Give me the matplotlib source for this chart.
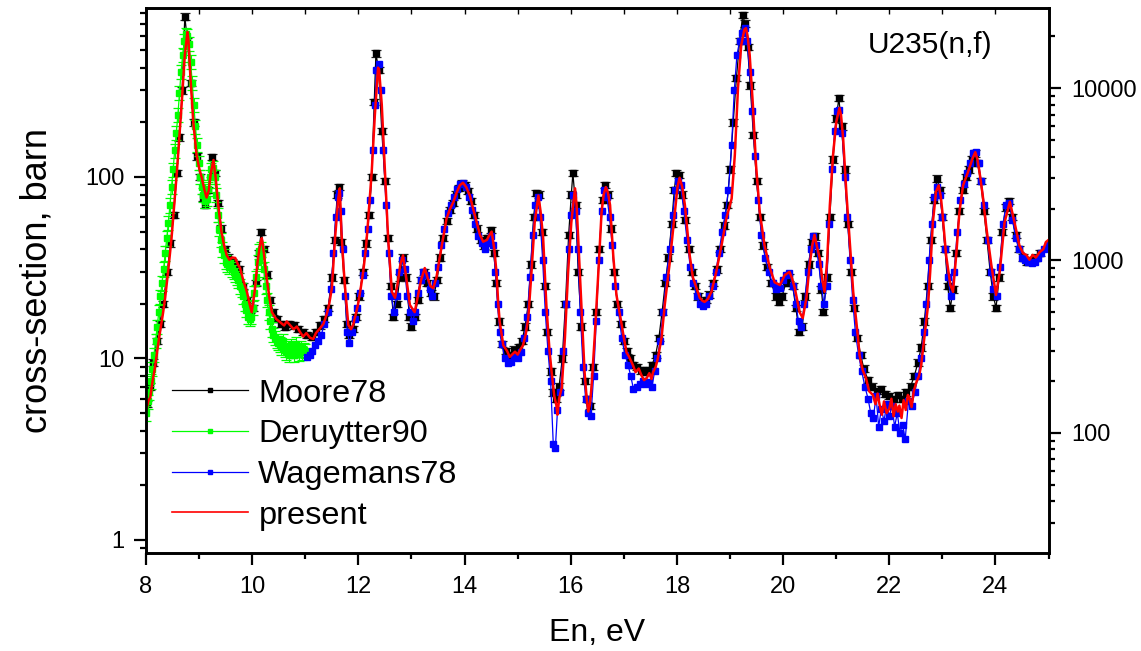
import numpy as np
import matplotlib
matplotlib.use("Agg")
import matplotlib.pyplot as plt
from matplotlib import ticker
from matplotlib.lines import Line2D

plt.rcParams['font.family'] = ['Liberation Sans', 'DejaVu Sans']

# ---- data (En in eV, cross-section in barn) ----
present_E = [8.00, 8.05, 8.08, 8.12, 8.17, 8.22, 8.26, 8.32, 8.36, 8.42, 8.48, 8.53, 8.58, 8.63, 8.67, 8.73,
             8.78, 8.80, 8.83, 8.89, 8.95, 9.00, 9.05, 9.10, 9.14, 9.18, 9.22, 9.27, 9.31, 9.36, 9.42, 9.47,
             9.52, 9.57, 9.62, 9.68, 9.73, 9.77, 9.83, 9.90, 9.95, 9.99, 10.05, 10.10, 10.15, 10.18, 10.22,
             10.27, 10.32, 10.37, 10.45, 10.52, 10.60, 10.65, 10.71, 10.78, 10.84, 10.90, 10.96, 11.02, 11.09,
             11.15, 11.20, 11.28, 11.34, 11.40, 11.45, 11.50, 11.56, 11.62, 11.65, 11.68, 11.72, 11.75, 11.81,
             11.86, 11.90, 11.95, 11.99, 12.04, 12.09, 12.14, 12.18, 12.25, 12.31, 12.37, 12.39, 12.44, 12.50,
             12.56, 12.63, 12.69, 12.74, 12.79, 12.84, 12.90, 12.97, 13.06, 13.12, 13.18, 13.25, 13.30, 13.36,
             13.41, 13.47, 13.53, 13.60, 13.66, 13.72, 13.79, 13.85, 13.91, 13.97, 14.03, 14.10, 14.16, 14.23,
             14.29, 14.35, 14.42, 14.47, 14.51, 14.56, 14.60, 14.63, 14.66, 14.73, 14.80, 14.85, 14.88, 14.95,
             15.00, 15.05, 15.10, 15.15, 15.20, 15.26, 15.32, 15.39, 15.43, 15.48, 15.54, 15.60, 15.64, 15.69,
             15.73, 15.75, 15.78, 15.83, 15.89, 15.95, 16.01, 16.08, 16.11, 16.14, 16.20, 16.26, 16.30, 16.33,
             16.36, 16.39, 16.45, 16.52, 16.58, 16.62, 16.66, 16.70, 16.74, 16.80, 16.86, 16.95, 17.00, 17.05,
             17.10, 17.17, 17.22, 17.28, 17.33, 17.38, 17.43, 17.48, 17.52, 17.55, 17.60, 17.64, 17.71, 17.77,
             17.86, 17.96, 18.01, 18.05, 18.10, 18.15, 18.24, 18.30, 18.37, 18.43, 18.48, 18.52, 18.58, 18.65,
             18.74, 18.84, 18.93, 19.03, 19.09, 19.15, 19.21, 19.27, 19.30, 19.33, 19.37, 19.43, 19.49, 19.56,
             19.65, 19.75, 19.84, 19.94, 20.03, 20.12, 20.17, 20.22, 20.31, 20.37, 20.44, 20.50, 20.55, 20.59,
             20.64, 20.69, 20.74, 20.78, 20.83, 20.88, 20.94, 21.00, 21.06, 21.09, 21.13, 21.19, 21.25, 21.32,
             21.41, 21.44, 21.50, 21.56, 21.62, 21.69, 21.74, 21.78, 21.82, 21.86, 21.90, 21.95, 22.00, 22.04,
             22.08, 22.12, 22.16, 22.19, 22.23, 22.27, 22.31, 22.35, 22.38, 22.42, 22.46, 22.51, 22.56, 22.60,
             22.66, 22.73, 22.77, 22.82, 22.88, 22.93, 22.97, 23.00, 23.07, 23.15, 23.20, 23.26, 23.32, 23.39,
             23.48, 23.57, 23.62, 23.66, 23.70, 23.76, 23.83, 23.92, 24.01, 24.08, 24.17, 24.27, 24.36, 24.45,
             24.52, 24.58, 24.64, 24.70, 24.76, 24.83, 24.90, 24.95, 25.00]
present_sig = [5.2, 5.9, 6.1, 7.4, 9.0, 11.5, 13.8, 17.8, 21.6, 31, 46, 70, 106, 170, 250, 470,
               630, 560, 380, 200, 133, 112, 99, 85, 77, 84, 105, 124, 100, 70, 50, 42,
               37, 35, 36, 35.8, 33, 31.5, 27, 23.3, 20, 18, 24, 34, 43, 46, 38,
               28, 22, 18, 16.5, 15.9, 15.2, 16, 15.3, 14.5, 15, 14, 13.2, 13.8, 13,
               12.8, 13.8, 14.7, 15.5, 17.4, 20, 24.4, 46, 76, 86.6, 50, 32, 24.4, 15.3,
               14.5, 15.3, 17.5, 19.7, 24, 30, 40, 56, 106, 220, 400, 390, 250, 106,
               46, 23.3, 21.6, 26, 33, 37, 28, 19.7, 18, 22, 27, 31.5, 28, 25,
               24.4, 28, 35.8, 47, 59, 66, 73, 82, 90, 93, 88, 79, 67, 56,
               48, 44, 45, 48, 50, 40, 30, 21, 16, 11.8, 11, 10.2, 10.4, 10.9,
               10.5, 11.2, 11.8, 13.5, 16.7, 30, 56, 79, 65, 46, 19.7, 11, 8.4, 6.2,
               5.5, 4.9, 6.0, 6.9, 13, 30, 56, 86.6, 70, 46, 19.7, 8.4, 6.0, 5.1,
               5.6, 6.9, 13, 30, 64, 80, 88, 82, 70, 37, 22.4, 15.9, 13, 10.8,
               10.2, 9.2, 8.4, 8.8, 8.1, 7.6, 7.8, 8.3, 7.7, 8.4, 9.0, 10, 13, 19.7,
               33, 64, 88, 99, 88, 70, 37, 28, 24.4, 21.6, 20.8, 20.5, 21.2, 23.3,
               30, 42, 59, 76, 132, 310, 530, 650, 660, 600, 470, 250, 116, 64,
               42, 31.5, 26.3, 25.4, 28.8, 30, 27.5, 24.4, 18, 16.7, 21.6, 33, 42, 48,
               41, 35.8, 27, 23.3, 35, 70, 132, 200, 240, 220, 164, 83, 46, 23.3,
               13, 10.4, 8.6, 7.8, 6.6, 6.3, 5.6, 6.4, 5.5, 4.9, 5.8, 5.0, 5.3, 6.0,
               4.8, 5.6, 5.1, 5.5, 4.7, 5.9, 5.2, 6.3, 6.05, 5.4, 6.6, 7.4, 8.0, 9.2,
               13, 19.7, 30, 56, 83, 90, 78, 64, 37, 25.4, 23.3, 37, 64, 90,
               106, 127, 137, 125, 106, 79, 52, 33, 22.4, 30, 56, 73, 56, 42,
               38, 37.2, 35, 37.2, 36, 38.5, 40, 43.8, 45]

moore_E = [8.02, 8.08, 8.14, 8.20, 8.26, 8.32, 8.40, 8.46, 8.52, 8.58, 8.63, 8.68, 8.73, 8.78, 8.84, 8.90,
           8.96, 9.02, 9.07, 9.11, 9.17, 9.24, 9.30, 9.36, 9.42, 9.48, 9.55, 9.62, 9.70, 9.76, 9.83, 9.90,
           9.96, 10.02, 10.07, 10.12, 10.17, 10.22, 10.27, 10.33, 10.40, 10.47, 10.55, 10.62, 10.70, 10.78,
           10.86, 10.95, 11.03, 11.12, 11.20, 11.28, 11.36, 11.43, 11.50, 11.55, 11.60, 11.63, 11.68, 11.73,
           11.78, 11.83, 11.90, 11.96, 12.02, 12.08, 12.14, 12.20, 12.25, 12.30, 12.33, 12.38, 12.44, 12.50,
           12.56, 12.61, 12.66, 12.72, 12.78, 12.84, 12.90, 12.96, 13.00, 13.06, 13.12, 13.18, 13.24, 13.30,
           13.36, 13.42, 13.48, 13.54, 13.60, 13.66, 13.72, 13.78, 13.84, 13.90, 13.95, 14.00, 14.06, 14.12,
           14.18, 14.24, 14.30, 14.36, 14.43, 14.50, 14.55, 14.60, 14.65, 14.71, 14.78, 14.86, 14.94, 15.02,
           15.08, 15.14, 15.20, 15.25, 15.30, 15.35, 15.40, 15.45, 15.51, 15.56, 15.62, 15.67, 15.72, 15.78,
           15.84, 15.90, 15.96, 16.01, 16.04, 16.09, 16.14, 16.20, 16.26, 16.31, 16.36, 16.42, 16.48, 16.54,
           16.60, 16.65, 16.70, 16.76, 16.82, 16.88, 16.94, 17.00, 17.06, 17.12, 17.18, 17.25, 17.32, 17.39,
           17.46, 17.53, 17.60, 17.66, 17.72, 17.78, 17.84, 17.90, 17.95, 17.99, 18.04, 18.10, 18.16, 18.22,
           18.28, 18.34, 18.40, 18.47, 18.54, 18.61, 18.68, 18.75, 18.82, 18.88, 18.94, 19.00, 19.06, 19.12,
           19.18, 19.24, 19.28, 19.33, 19.38, 19.44, 19.50, 19.56, 19.62, 19.70, 19.78, 19.86, 19.92, 19.98,
           20.05, 20.12, 20.18, 20.24, 20.30, 20.36, 20.42, 20.48, 20.54, 20.60, 20.66, 20.72, 20.76, 20.82,
           20.88, 20.94, 21.00, 21.05, 21.10, 21.16, 21.22, 21.28, 21.34, 21.40, 21.46, 21.52, 21.60, 21.68,
           21.76, 21.84, 21.92, 22.00, 22.08, 22.16, 22.24, 22.32, 22.40, 22.47, 22.54, 22.60, 22.66, 22.72,
           22.78, 22.84, 22.90, 22.95, 23.00, 23.05, 23.10, 23.15, 23.20, 23.26, 23.32, 23.38, 23.44, 23.50,
           23.56, 23.61, 23.66, 23.72, 23.78, 23.84, 23.90, 23.96, 24.01, 24.07, 24.13, 24.19, 24.25, 24.31,
           24.38, 24.45, 24.52, 24.60, 24.68, 24.76, 24.84]
moore_sig = [5.6, 7.0, 9.5, 12.5, 15.5, 20, 30, 43, 62, 105, 165, 300, 765, 560, 330, 200,
             130, 100, 77, 70, 85, 129, 105, 72, 52, 40, 36, 34, 33, 31, 25, 21,
             18.5, 19, 26, 38, 50, 40, 29, 21, 18, 16.5, 15.5, 15.0, 15.5, 15.2,
             14.5, 14.0, 13.5, 13.2, 14.0, 15.2, 16.5, 19, 28, 45, 80, 88, 44, 27,
             15.5, 13.5, 14.5, 17, 22, 30, 43, 62, 100, 260, 480, 390, 180, 95,
             46, 25, 17, 20, 28, 36, 28, 17, 15, 17, 21, 27, 30, 26,
             23, 22, 27, 36, 46, 57, 66, 72, 80, 87, 92, 90, 84, 74,
             62, 52, 45, 42, 46, 51, 38, 26, 16, 12, 11, 10.5, 11.2, 11.5,
             12.5, 15, 20, 33, 60, 82, 80, 50, 25, 14, 8.5, 6.5, 6.0, 7.0,
             10, 20, 48, 80, 105, 70, 30, 15, 7.5, 6.0, 5.5, 9, 18, 40,
             75, 90, 80, 52, 30, 20, 15.5, 12.5, 11, 10, 9.2, 9.0, 8.6, 8.4,
             8.6, 9.2, 10.5, 13, 18, 26, 36, 55, 85, 105, 103, 80, 58, 40,
             30, 25, 22, 20.5, 21, 22.5, 26, 31, 40, 54, 70, 110, 200, 350,
             560, 780, 700, 520, 320, 170, 95, 60, 42, 32, 26, 22, 20.5, 22,
             26, 28, 25, 19, 14, 15, 22, 33, 44, 47, 38, 24, 18, 28,
             60, 125, 210, 272, 190, 110, 55, 30, 19, 13, 10.5, 8.8, 7.6, 7.0,
             6.6, 6.8, 6.4, 6.2, 6.0, 6.3, 6.0, 6.5, 7.0, 8.0, 9.5, 11.5, 16, 25,
             45, 75, 98, 85, 60, 40, 25, 19, 24, 38, 65, 85, 100, 110,
             125, 135, 120, 95, 65, 45, 30, 22, 19, 28, 50, 68, 74, 60,
             48, 40, 36, 34, 35, 36, 38]

deruytter_E = [8.00, 8.03, 8.06, 8.09, 8.12, 8.15, 8.18, 8.21, 8.24, 8.27, 8.30, 8.33, 8.36, 8.39, 8.42,
               8.45, 8.48, 8.51, 8.54, 8.57, 8.60, 8.63, 8.66, 8.69, 8.72, 8.75, 8.78, 8.81, 8.84, 8.87,
               8.90, 8.93, 8.96, 8.99, 9.02, 9.05, 9.08, 9.11, 9.14, 9.17, 9.20, 9.23, 9.26, 9.29, 9.32,
               9.35, 9.38, 9.41, 9.44, 9.47, 9.50, 9.53, 9.56, 9.59, 9.62, 9.65, 9.68, 9.71, 9.74, 9.77,
               9.80, 9.83, 9.86, 9.89, 9.92, 9.95, 9.98, 10.01, 10.04, 10.07, 10.10, 10.13, 10.16, 10.19,
               10.22, 10.25, 10.28, 10.31, 10.34, 10.37, 10.40, 10.43, 10.46, 10.49, 10.52, 10.55, 10.58,
               10.61, 10.64, 10.67, 10.70, 10.73, 10.76, 10.79, 10.82, 10.85, 10.88, 10.91, 10.94, 10.97, 11.00]
deruytter_sig = [5.0, 5.8, 6.5, 7.5, 8.8, 10.5, 12.5, 15, 18, 22, 26, 31, 38, 46, 56,
                 70, 88, 110, 140, 175, 220, 290, 380, 470, 560, 610, 600, 540, 430, 330,
                 250, 190, 150, 120, 100, 88, 80, 74, 76, 86, 100, 110, 112, 100, 80,
                 62, 52, 45, 40, 37, 34, 33, 32, 33, 31, 30, 29, 28, 27, 25,
                 24, 22, 20, 18.5, 17, 16.5, 17, 19, 23, 28, 34, 39, 40, 37,
                 31, 25, 21, 18, 16, 14.5, 13.5, 13, 12.5, 12.2, 12, 11.5, 12.5,
                 11.2, 10.8, 11.5, 10.5, 11.8, 11, 10.5, 12, 11.2, 10.6, 11.5, 10.8, 11.2, 11.0]

wagemans_E = [11.03, 11.08, 11.13, 11.18, 11.24, 11.30, 11.36, 11.42, 11.48, 11.53, 11.57, 11.61, 11.64,
              11.67, 11.71, 11.75, 11.79, 11.83, 11.88, 11.93, 11.98, 12.03, 12.08, 12.13, 12.18, 12.22,
              12.27, 12.31, 12.34, 12.38, 12.42, 12.47, 12.52, 12.57, 12.62, 12.67, 12.72, 12.77, 12.82,
              12.87, 12.92, 12.97, 13.02, 13.07, 13.12, 13.17, 13.22, 13.28, 13.34, 13.39, 13.45, 13.50,
              13.56, 13.62, 13.68, 13.74, 13.80, 13.86, 13.92, 13.97, 14.02, 14.08, 14.14, 14.20, 14.26,
              14.32, 14.38, 14.44, 14.49, 14.54, 14.58, 14.62, 14.66, 14.70, 14.76, 14.82, 14.88, 14.94,
              15.00, 15.06, 15.12, 15.18, 15.23, 15.28, 15.33, 15.38, 15.42, 15.47, 15.52, 15.57, 15.62,
              15.67, 15.71, 15.75, 15.80, 15.86, 15.91, 15.96, 16.01, 16.05, 16.09, 16.13, 16.18, 16.23,
              16.28, 16.33, 16.38, 16.43, 16.48, 16.53, 16.58, 16.63, 16.68, 16.73, 16.78, 16.84, 16.90,
              16.96, 17.02, 17.08, 17.13, 17.18, 17.24, 17.30, 17.36, 17.42, 17.48, 17.53, 17.58, 17.63,
              17.68, 17.74, 17.80, 17.86, 17.92, 17.97, 18.02, 18.07, 18.13, 18.19, 18.25, 18.31, 18.37,
              18.43, 18.49, 18.55, 18.61, 18.67, 18.73, 18.79, 18.85, 18.91, 18.97, 19.03, 19.08, 19.13,
              19.18, 19.23, 19.28, 19.32, 19.37, 19.42, 19.47, 19.53, 19.59, 19.66, 19.73, 19.80, 19.87,
              19.94, 20.00, 20.06, 20.12, 20.18, 20.24, 20.29, 20.34, 20.40, 20.46, 20.52, 20.57, 20.62,
              20.67, 20.72, 20.77, 20.82, 20.87, 20.92, 20.97, 21.02, 21.06, 21.11, 21.16, 21.21, 21.26,
              21.31, 21.36, 21.42, 21.48, 21.54, 21.60, 21.65, 21.70, 21.75, 21.80, 21.85, 21.90, 21.95,
              22.00, 22.05, 22.10, 22.15, 22.20, 22.25, 22.30, 22.36, 22.42, 22.48, 22.54, 22.60, 22.65,
              22.70, 22.75, 22.80, 22.85, 22.90, 22.95, 23.00, 23.05, 23.10, 23.16, 23.22, 23.28, 23.34,
              23.40, 23.46, 23.52, 23.58, 23.63, 23.68, 23.73, 23.79, 23.85, 23.91, 23.96, 24.02, 24.08,
              24.14, 24.20, 24.26, 24.32, 24.38, 24.44, 24.50, 24.56, 24.62, 24.68, 24.74, 24.80, 24.86,
              24.92, 24.98]
wagemans_sig = [10.2, 10.5, 11, 11.8, 12.5, 13.5, 15.5, 18, 24, 38, 60, 78, 82,
                65, 40, 22, 14, 12.2, 14, 16.5, 19, 23, 29, 38, 52, 75,
                140, 250, 390, 420, 300, 140, 70, 38, 22, 18, 22, 30, 35,
                31, 22, 18, 16, 18, 23, 27, 30, 29, 24, 22, 26, 32,
                42, 52, 63, 70, 78, 86, 92, 93, 88, 78, 66, 55, 47,
                43, 40, 43, 47, 42, 30, 20, 14, 12, 10, 9.5, 9.6, 10.2,
                10.0, 10.8, 13, 17, 28, 48, 70, 78, 60, 35, 18, 11, 7.5,
                3.4, 3.2, 5.2, 6.5, 11, 20, 40, 62, 80, 65, 40, 18, 9,
                6, 5.0, 4.8, 8, 16, 35, 65, 85, 78, 60, 42, 25, 18,
                13, 10.5, 9.2, 8.0, 6.8, 7.0, 7.2, 7.5, 7.2, 7.4, 7.0, 8.5, 10,
                12.5, 18, 28, 40, 62, 85, 95, 90, 65, 45, 32, 26, 22,
                20, 19.5, 20, 22, 25, 30, 38, 50, 62, 85, 150, 300, 470,
                560, 620, 660, 560, 380, 230, 130, 75, 48, 36, 30, 26, 24,
                24.5, 27, 29, 29.5, 25, 20, 16, 15, 20, 30, 40, 47, 42,
                33, 25, 20, 25, 55, 110, 180, 230, 235, 175, 100, 60, 35,
                21, 14, 10.5, 8.5, 7.0, 6.0, 5.0, 4.7, 6.2, 4.2, 5.3, 4.5, 5.6,
                4.8, 5.5, 4.2, 5.0, 3.9, 4.3, 3.6, 5.8, 5.5, 6.5, 8, 10, 14,
                20, 35, 55, 78, 88, 80, 60, 40, 28, 22, 30, 50, 75,
                92, 105, 120, 135, 138, 120, 95, 70, 45, 30, 24, 22, 32,
                55, 70, 72, 58, 46, 40, 36, 35, 34, 33.5, 34, 36, 38,
                40, 42]

moore_err = [0.04 * s for s in moore_sig]
deruytter_err = [0.09 * s for s in deruytter_sig]

fig = plt.figure(figsize=(11.41, 6.51), dpi=100)
ax = fig.add_axes([0.128, 0.151, 0.791, 0.836])

ax.errorbar(moore_E, moore_sig, yerr=moore_err, color='black', lw=0.9, marker='s', ms=5,
            ecolor='#202020', elinewidth=0.8, capsize=3.5, capthick=0.9, zorder=2)
ax.errorbar(deruytter_E, deruytter_sig, yerr=deruytter_err, color='#00ff00', lw=0.9, marker='s', ms=5,
            ecolor='#00ff00', elinewidth=0.8, capsize=3.5, capthick=0.9, zorder=3)
ax.plot(wagemans_E, wagemans_sig, color='#0000ff', lw=0.9, marker='s', ms=5, zorder=4)
ax.plot(present_E, present_sig, color='#ff0000', lw=1.8, zorder=5)

ax.set_xlim(8, 25)
ax.set_yscale('log')
ax.set_ylim(0.851, 848)

ax.xaxis.set_major_locator(ticker.MultipleLocator(2))
ax.xaxis.set_minor_locator(ticker.MultipleLocator(1))
ax.yaxis.set_major_locator(ticker.LogLocator(base=10))
ax.yaxis.set_minor_locator(ticker.LogLocator(base=10, subs=np.arange(2, 10)))
ax.yaxis.set_major_formatter(ticker.FuncFormatter(lambda v, p: '%g' % v))
ax.yaxis.set_minor_formatter(ticker.NullFormatter())
ax.tick_params(which='major', direction='out', length=8.5, width=1.6, labelsize=17)
ax.tick_params(which='minor', direction='out', length=4.5, width=1.6)
ax.tick_params(axis='x', which='major', pad=8)
ax.tick_params(axis='y', which='major', pad=7)
for sp in ax.spines.values():
    sp.set_linewidth(1.9)

# small inward ticks along the top edge
top = ax.secondary_xaxis('top')
top.set_xticks(np.arange(8, 26, 1))
top.tick_params(direction='in', length=4, width=1.0, labeltop=False)

# right axis on its own log scale
ax2 = ax.twinx()
ax2.set_yscale('log')
ax2.set_ylim(20.1, 29050)
ax2.yaxis.set_major_locator(ticker.LogLocator(base=10))
ax2.yaxis.set_minor_locator(ticker.LogLocator(base=10, subs=np.arange(2, 10)))
ax2.yaxis.set_major_formatter(ticker.FuncFormatter(lambda v, p: '%g' % v))
ax2.yaxis.set_minor_formatter(ticker.NullFormatter())
ax2.tick_params(which='major', direction='out', length=8.5, width=1.6, labelsize=17, pad=8)
ax2.tick_params(which='minor', direction='out', length=4.5, width=1.6)
for sp in ax2.spines.values():
    sp.set_linewidth(1.9)

ax.set_xlabel('En, eV', fontsize=23, labelpad=15)
ax.set_ylabel('cross-section, barn', fontsize=26, labelpad=22)
ax.text(0.80, 0.933, 'U235(n,f)', transform=ax.transAxes, fontsize=21.5, ha='left', va='center')

handles = [Line2D([], [], color='black', lw=0.9, marker='s', ms=3.5),
           Line2D([], [], color='#00ff00', lw=0.9, marker='s', ms=3.5),
           Line2D([], [], color='#0000ff', lw=0.9, marker='s', ms=3.5),
           Line2D([], [], color='#ff0000', lw=1.2)]
ax.legend(handles, ['Moore78', 'Deruytter90', 'Wagemans78', 'present'],
          loc='upper left', bbox_to_anchor=(0.029, 0.320), frameon=False, fontsize=23.4,
          handlelength=2.34, handletextpad=0.31, labelspacing=0.33, borderpad=0, borderaxespad=0)

fig.savefig('out.png', dpi=100)
